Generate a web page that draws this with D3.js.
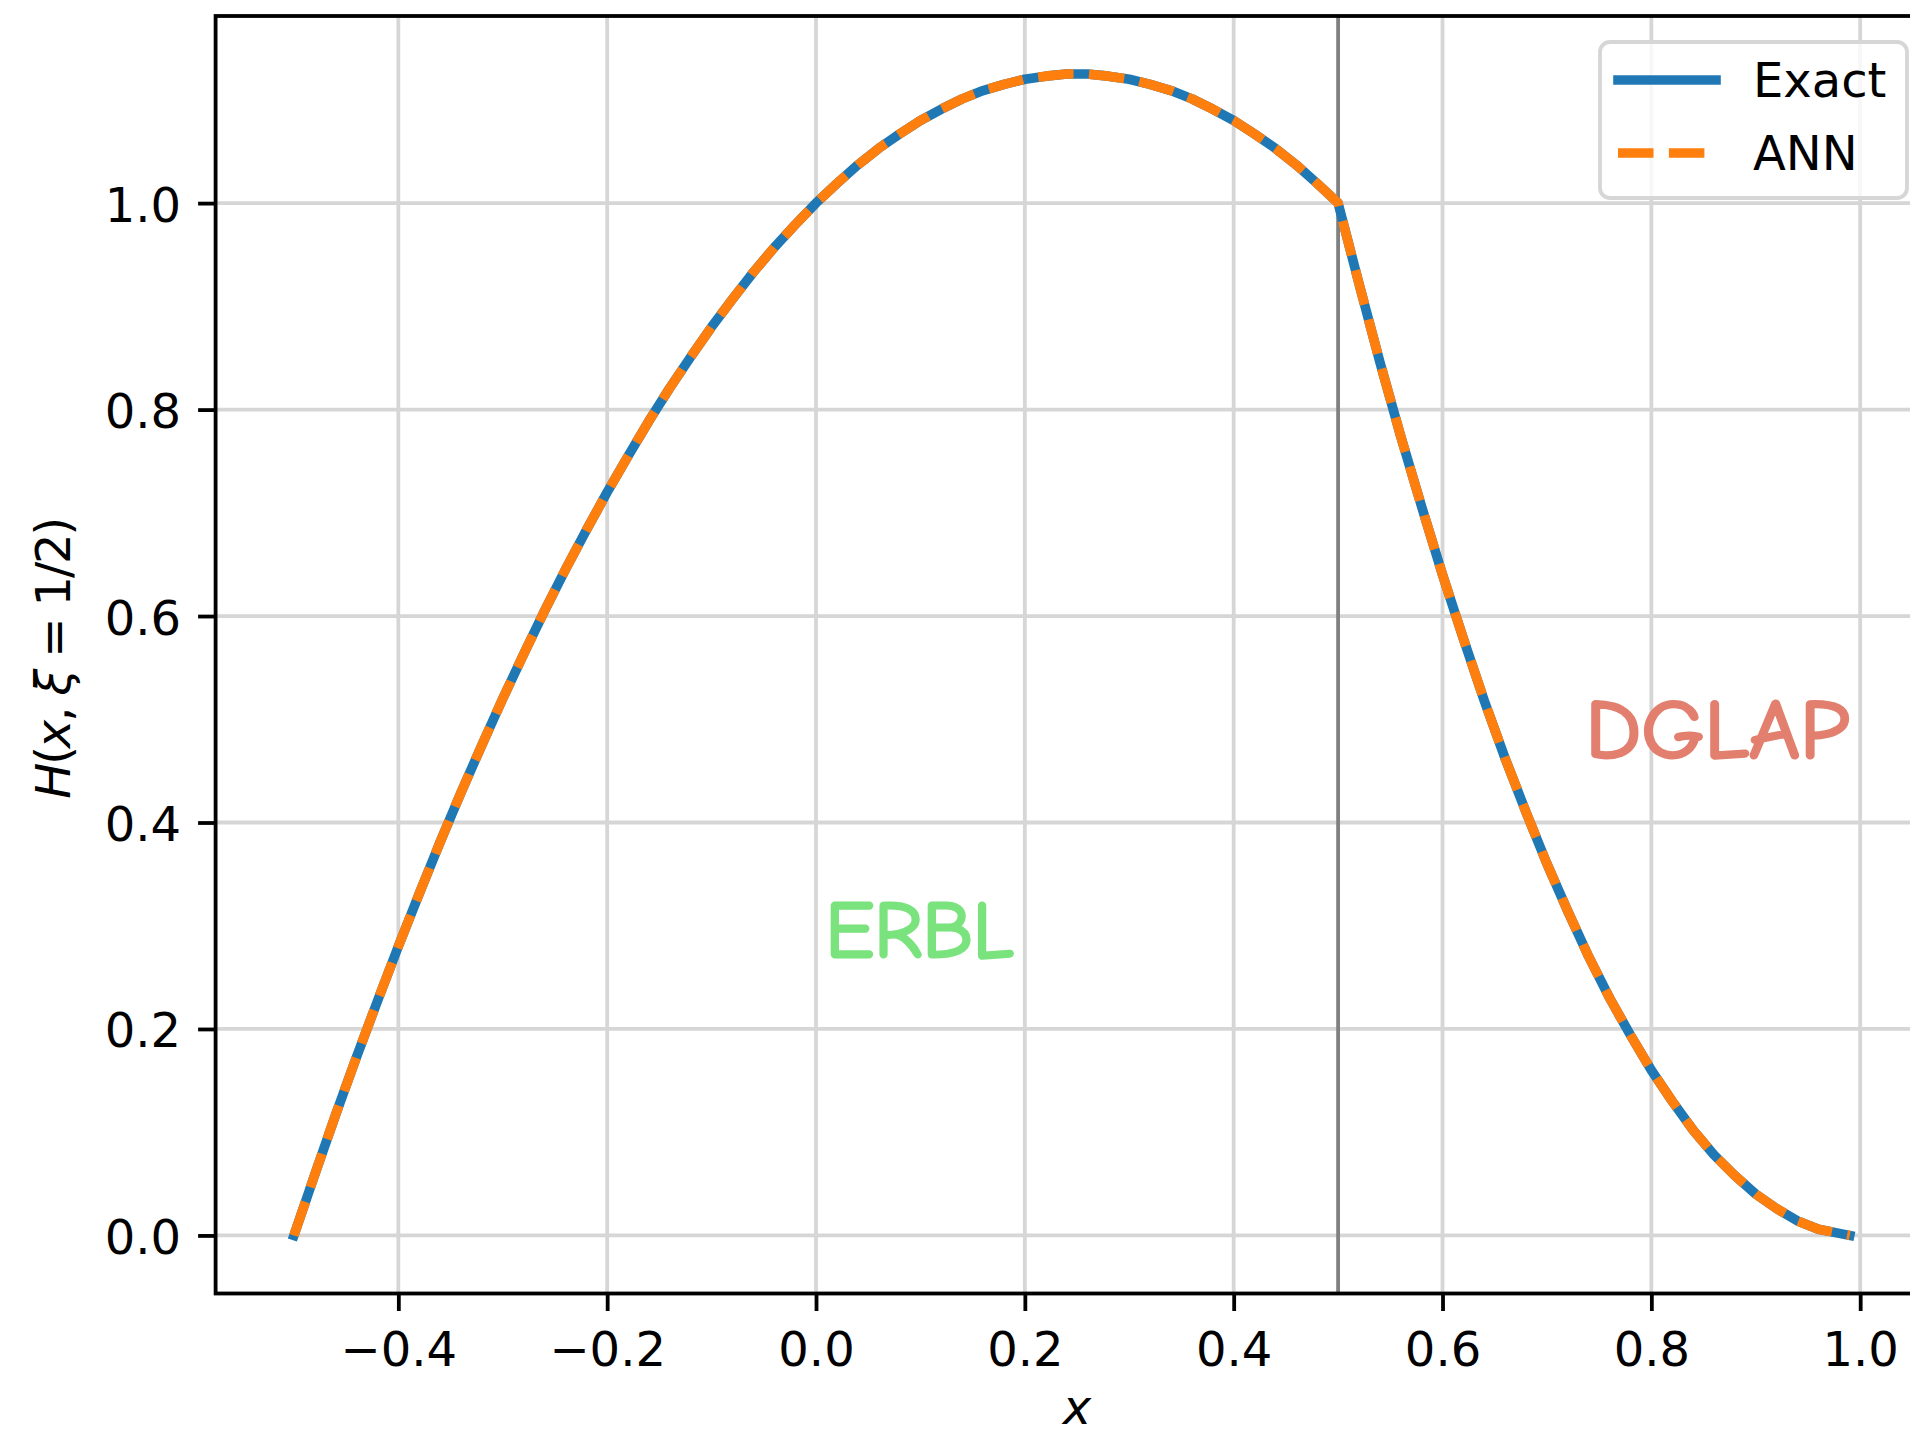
<!DOCTYPE html>
<html>
<head>
<meta charset="utf-8">
<script src="https://cdn.jsdelivr.net/npm/d3@7"></script>
<style>
    body { margin: 0; background: #ffffff; }
    svg { display: block; font-family: 'DejaVu Sans', sans-serif; }
</style>
</head>
<body>
<svg id="gpd-chart" width="1910" height="1435"></svg>
<script>

// x values along the curve
var xValues = [
    -0.50, -0.48, -0.46, -0.44, -0.42, -0.40, -0.38, -0.36, -0.34, -0.32,
    -0.30, -0.28, -0.26, -0.24, -0.22, -0.20, -0.18, -0.16, -0.14, -0.12,
    -0.10, -0.08, -0.06, -0.04, -0.02, 0.00, 0.02, 0.04, 0.06, 0.08,
    0.10, 0.12, 0.14, 0.16, 0.18, 0.20, 0.22, 0.24, 0.26, 0.28,
    0.30, 0.32, 0.34, 0.36, 0.38, 0.40, 0.42, 0.44, 0.46, 0.48,
    0.50, 0.52, 0.54, 0.56, 0.58, 0.60, 0.62, 0.64, 0.66, 0.68,
    0.70, 0.72, 0.74, 0.76, 0.78, 0.80, 0.82, 0.84, 0.86, 0.88,
    0.90, 0.92, 0.94, 0.96, 0.98, 0.99
];

// H(x, xi=1/2), exact curve
var exactValues = [
    0.000, 0.059, 0.117, 0.173, 0.227, 0.280, 0.331, 0.381, 0.429, 0.475,
    0.520, 0.563, 0.605, 0.645, 0.683, 0.720, 0.755, 0.789, 0.821, 0.851,
    0.880, 0.907, 0.933, 0.957, 0.979, 1.000, 1.019, 1.037, 1.053, 1.067,
    1.080, 1.091, 1.101, 1.109, 1.115, 1.120, 1.123, 1.125, 1.125, 1.123,
    1.120, 1.115, 1.109, 1.101, 1.091, 1.080, 1.067, 1.053, 1.037, 1.019,
    1.000, 0.922, 0.846, 0.774, 0.706, 0.640, 0.578, 0.518, 0.462, 0.410,
    0.360, 0.314, 0.270, 0.230, 0.194, 0.160, 0.130, 0.102, 0.078, 0.058,
    0.040, 0.026, 0.014, 0.006, 0.002, 0.000
];

// ANN prediction (on top of the exact one)
var annValues = [
    0.000, 0.059, 0.117, 0.173, 0.227, 0.280, 0.331, 0.381, 0.429, 0.475,
    0.520, 0.563, 0.605, 0.645, 0.683, 0.720, 0.755, 0.789, 0.821, 0.851,
    0.880, 0.907, 0.933, 0.957, 0.979, 1.000, 1.019, 1.037, 1.053, 1.067,
    1.080, 1.091, 1.101, 1.109, 1.115, 1.120, 1.123, 1.125, 1.125, 1.123,
    1.120, 1.115, 1.109, 1.101, 1.091, 1.080, 1.067, 1.053, 1.037, 1.019,
    1.000, 0.922, 0.846, 0.774, 0.706, 0.640, 0.578, 0.518, 0.462, 0.410,
    0.360, 0.314, 0.270, 0.230, 0.194, 0.160, 0.130, 0.102, 0.078, 0.058,
    0.040, 0.026, 0.014, 0.006, 0.002, 0.000
];

var xTicks = [-0.4, -0.2, 0.0, 0.2, 0.4, 0.6, 0.8, 1.0];
var yTicks = [0.0, 0.2, 0.4, 0.6, 0.8, 1.0];

var seriesNames = ['Exact', 'ANN'];
var regionNames = ['ERBL', 'DGLAP'];
var boundaryX = 0.5;


/*****************************/
// Set up svg and scales
/*****************************/

var svg = d3.select('#gpd-chart');

var plotLeft = 215.6, plotRight = 1938.5, plotTop = 16, plotBottom = 1293.5;

var xChart = d3.scaleLinear().domain([-0.575, 1.075]).range([plotLeft, plotRight]);
var yChart = d3.scaleLinear().domain([-0.05625, 1.18125]).range([plotBottom, plotTop]);

var lineWidth = 9.6;
var blue = '#1f77b4', orange = '#ff7f0e';

// Grid lines
var grid = svg.append('g').attr('class', 'grid');

grid.selectAll('.vgrid')
    .data(xTicks)
    .enter().append('line')
    .attr('x1', function(d) { return xChart(d); })
    .attr('x2', function(d) { return xChart(d); })
    .attr('y1', plotTop)
    .attr('y2', plotBottom)
    .attr('stroke', '#d6d6d6')
    .attr('stroke-width', 3.8);

grid.selectAll('.hgrid')
    .data(yTicks)
    .enter().append('line')
    .attr('x1', plotLeft)
    .attr('x2', plotRight)
    .attr('y1', function(d) { return yChart(d); })
    .attr('y2', function(d) { return yChart(d); })
    .attr('stroke', '#d6d6d6')
    .attr('stroke-width', 3.8);

// Boundary between ERBL and DGLAP
svg.append('line')
    .attr('x1', xChart(boundaryX))
    .attr('x2', xChart(boundaryX))
    .attr('y1', plotTop)
    .attr('y2', plotBottom)
    .attr('stroke', '#808080')
    .attr('stroke-width', 3.8);


/*****************************/
// Curves
/*****************************/

var exactLine = d3.line()
    .x(function(d, i) { return xChart(xValues[i]); })
    .y(function(d) { return yChart(d); });

svg.append('path')
    .datum(exactValues)
    .attr('d', exactLine)
    .attr('fill', 'none')
    .attr('stroke', blue)
    .attr('stroke-width', lineWidth)
    .attr('stroke-linecap', 'square')
    .attr('stroke-linejoin', 'round');

svg.append('path')
    .datum(annValues)
    .attr('d', exactLine)
    .attr('fill', 'none')
    .attr('stroke', orange)
    .attr('stroke-width', lineWidth)
    .attr('stroke-dasharray', '35.5,15.4')
    .attr('stroke-linecap', 'butt')
    .attr('stroke-linejoin', 'round');


/*****************************/
// Axes
/*****************************/

var fmt = d3.format('.1f');

var xAxis = svg.append('g')
    .attr('transform', 'translate(0,' + plotBottom + ')')
    .call(d3.axisBottom(xChart).tickValues(xTicks).tickFormat(fmt).tickSize(17.5).tickSizeOuter(0));

xAxis.select('.domain').remove();
xAxis.selectAll('.tick line').attr('stroke', '#000').attr('stroke-width', 3.8);
xAxis.selectAll('.tick text')
    .attr('y', 72.5)
    .attr('dy', 0)
    .attr('fill', '#000')
    .style('font-size', '48px')
    .style('font-family', 'DejaVu Sans');

var yAxis = svg.append('g')
    .attr('transform', 'translate(' + plotLeft + ',0)')
    .call(d3.axisLeft(yChart).tickValues(yTicks).tickFormat(fmt).tickSize(17.5).tickSizeOuter(0));

yAxis.select('.domain').remove();
yAxis.selectAll('.tick line').attr('stroke', '#000').attr('stroke-width', 3.8);
yAxis.selectAll('.tick text')
    .attr('x', -34.5)
    .attr('dy', 18)
    .attr('fill', '#000')
    .style('font-size', '48px')
    .style('font-family', 'DejaVu Sans');

// Spines (right one falls outside the picture)
svg.append('rect')
    .attr('x', plotLeft)
    .attr('y', plotTop)
    .attr('width', plotRight - plotLeft)
    .attr('height', plotBottom - plotTop)
    .attr('fill', 'none')
    .attr('stroke', '#000')
    .attr('stroke-width', 3.8);

// Axis labels
svg.append('text')
    .attr('x', (plotLeft + plotRight) / 2)
    .attr('y', 1424)
    .attr('text-anchor', 'middle')
    .style('font-size', '48px')
    .style('font-style', 'italic')
    .text('x');

var yLabel = svg.append('text')
    .attr('transform', 'translate(70,' + ((plotTop + plotBottom) / 2 + 3) + ') rotate(-90)')
    .attr('text-anchor', 'middle')
    .attr('textLength', 282)
    .attr('lengthAdjust', 'spacing')
    .style('font-size', '48px');

yLabel.append('tspan').style('font-style', 'italic').text('H');
yLabel.append('tspan').text('(');
yLabel.append('tspan').style('font-style', 'italic').text('x');
yLabel.append('tspan').text(', ');
yLabel.append('tspan').style('font-style', 'italic').text('ξ');
yLabel.append('tspan').text(' = 1/2)');


/*****************************/
// Region labels
/*****************************/

var regionFont = "'Comic Sans MS', 'Comic Neue', 'Humor Sans', 'DejaVu Sans', sans-serif";

svg.append('text')
    .attr('x', xChart(0.009))
    .attr('y', yChart(0.27))
    .attr('textLength', 188)
    .attr('lengthAdjust', 'spacingAndGlyphs')
    .style('font-family', regionFont)
    .style('font-size', '80px')
    .attr('fill', '#7ae37e')
    .attr('stroke', '#7ae37e')
    .attr('stroke-width', 3)
    .attr('stroke-linejoin', 'round')
    .text(regionNames[0]);

svg.append('text')
    .attr('x', xChart(0.737))
    .attr('y', yChart(0.462))
    .attr('textLength', 264)
    .attr('lengthAdjust', 'spacingAndGlyphs')
    .style('font-family', regionFont)
    .style('font-size', '82px')
    .attr('fill', '#e27f6e')
    .attr('stroke', '#e27f6e')
    .attr('stroke-width', 3)
    .attr('stroke-linejoin', 'round')
    .text(regionNames[1]);


/*****************************/
// Legend
/*****************************/

var legend = svg.append('g').attr('class', 'legend');

legend.append('rect')
    .attr('x', 1600)
    .attr('y', 42)
    .attr('width', 307)
    .attr('height', 156)
    .attr('rx', 10)
    .attr('ry', 10)
    .attr('fill', '#ffffff')
    .attr('fill-opacity', 0.8)
    .attr('stroke', '#d6d6d6')
    .attr('stroke-width', 3.8);

var legendRows = [
    { name: seriesNames[0], color: blue, dash: null, cap: 'square', y: 80 },
    { name: seriesNames[1], color: orange, dash: '35.5,15.4', cap: 'butt', y: 153 }
];

legendRows.forEach(function(row) {
    legend.append('line')
        .attr('x1', 1618)
        .attr('x2', 1716)
        .attr('y1', row.y)
        .attr('y2', row.y)
        .attr('stroke', row.color)
        .attr('stroke-width', lineWidth)
        .attr('stroke-linecap', row.cap)
        .attr('stroke-dasharray', row.dash);

    legend.append('text')
        .attr('x', 1753)
        .attr('y', row.y + 16.5)
        .style('font-size', '48px')
        .attr('fill', '#000')
        .text(row.name);
});

</script>
</body>
</html>
